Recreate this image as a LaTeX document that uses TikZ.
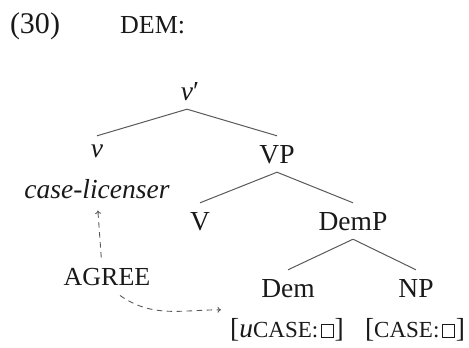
\documentclass[tikz,border=0pt]{standalone}
\usepackage{fontspec}
\setmainfont{Liberation Serif}
\usetikzlibrary{arrows.meta}
\newcommand\smc[1]{{\fontsize{23bp}{25bp}\selectfont #1}}
\newcommand\emptybox{\hspace{3bp}{\setlength{\fboxsep}{0pt}\setlength{\fboxrule}{0.7bp}\fbox{\rule{0pt}{12bp}\hspace{11bp}}}\hspace{1bp}}
\begin{document}
\begin{tikzpicture}[x=1bp,y=-1bp,
  every node/.style={inner sep=0pt, font=\fontsize{27.5bp}{31bp}\selectfont, text=black!90},
  tn/.style={anchor=base, text height=27bp, text depth=9bp},
  edge/.style={draw=black!65, line width=1bp},
  dasharrow/.style={draw=black!65, line width=0.9bp, dash pattern=on 5.5bp off 4.5bp, -{To[length=3.5bp,width=6bp]}}]
\useasboundingbox (0,0) rectangle (469,347);
\node[anchor=base, font=\fontsize{30bp}{34bp}\selectfont] (num) at (35,33) {(30)};
\node[anchor=base west, font=\fontsize{26bp}{30bp}\selectfont] (title) at (120,33) {DEM:};
\node[tn] (vbar) at (187,100) {\textit{v}\rlap{′}};
\node[tn, text height=21bp] (v) at (97,157) {\textit{v}};
\node[anchor=base] (cl) at (97,198) {\textit{case-licenser}};
\node[tn] (vp) at (277,163) {VP};
\node[tn] (V) at (200,230) {V};
\node[tn] (demp) at (353,230) {DemP};
\node[tn] (dem) at (288,297) {Dem};
\node[tn] (np) at (416,297) {NP};
\node[anchor=base] (uc) at (287,337) {[\textit{u}\smc{CASE:}\emptybox]};
\node[anchor=base] (c) at (415,337) {[\smc{CASE:}\emptybox]};
\node[anchor=base, font=\fontsize{26bp}{30bp}\selectfont] (agree) at (107,285) {AGREE};
\draw[edge] (vbar.south) -- (v.north);
\draw[edge] (vbar.south) -- (vp.north);
\draw[edge] (vp.south) -- (V.north);
\draw[edge] (vp.south) -- (demp.north);
\draw[edge] (demp.south) -- (dem.north);
\draw[edge] (demp.south) -- (np.north);
\draw[dasharrow, shorten <=10bp, shorten >=12bp] ([xshift=-5bp]agree.north) -- (cl.south);
\draw[dasharrow] ([xshift=13bp,yshift=-10bp]agree.south) to[out=-35,in=180] ([xshift=-9bp,yshift=19.5bp]uc.west);
\end{tikzpicture}
\end{document}
